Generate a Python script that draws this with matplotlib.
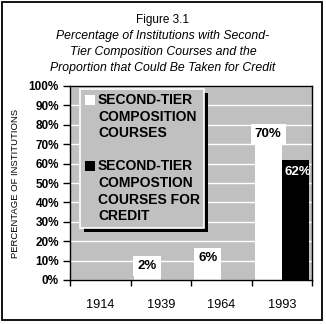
import matplotlib
matplotlib.use("Agg")
import matplotlib.pyplot as plt
from matplotlib.patches import Rectangle

years = ["1914", "1939", "1964", "1993"]
all_courses = [0, 2, 6, 70]
credit_courses = [0, 0, 0, 62]
all_labels = [None, "2%", "6%", "70%"]
credit_labels = [None, None, None, "62%"]
legend_labels = ["SECOND-TIER\nCOMPOSITION\nCOURSES",
                 "SECOND-TIER\nCOMPOSTION\nCOURSES FOR\nCREDIT"]
title_lines = ["Percentage of Institutions with Second-",
               "Tier Composition Courses and the",
               "Proportion that Could Be Taken for Credit"]

W, H = 326, 324
plt.rcParams["font.family"] = ["Liberation Sans", "DejaVu Sans"]
fig = plt.figure(figsize=(W / 100, H / 100), dpi=100)


def fx(x):
    return x / W


def fy(y):
    return 1 - y / H


# outer frame
fig.add_artist(Rectangle((fx(2), fy(320)), fx(320), (318) / H, transform=fig.transFigure,
                         fill=False, ec="black", lw=1.3))

fig.text(0.5, fy(20), "Figure 3.1", ha="center", va="center", fontsize=8.5)
for i, line in enumerate(title_lines):
    fig.text(0.5, fy(36 + 16 * i), line, ha="center", va="center", fontsize=8.8, style="italic")

ax = fig.add_axes([fx(70), fy(280), fx(242), 194 / H])
ax.set_facecolor("#c0c0c0")
x = list(range(len(years)))
bw = 0.45
ax.bar([i - bw / 2 for i in x], all_courses, width=bw, color="white", zorder=2)
ax.bar([i + bw / 2 for i in x], credit_courses, width=bw, color="black", zorder=2)

for i, (v, lab) in enumerate(zip(all_courses, all_labels)):
    if lab:
        ax.annotate(lab, (i - bw / 2, v), xytext=(0, 4), textcoords="offset pixels",
                    ha="center", va="bottom", fontsize=9.5, fontweight="bold", zorder=4,
                    bbox=dict(boxstyle="square,pad=0.32", fc="white", ec="none"))
for i, (v, lab) in enumerate(zip(credit_courses, credit_labels)):
    if lab:
        ax.annotate(lab, (i + bw / 2, v), xytext=(2, -6), textcoords="offset pixels",
                    ha="center", va="top", fontsize=9.5, fontweight="bold", color="white",
                    zorder=4)

ax.set_xlim(-0.5, 3.5)
ax.set_ylim(0, 100)
ax.set_yticks(range(0, 101, 10))
ax.set_yticklabels([f"{v}%" for v in range(0, 101, 10)], fontsize=8.5, fontweight="bold")
ax.yaxis.grid(True, color="white", lw=1)
ax.set_axisbelow(True)
ax.set_xticks([i - 0.5 for i in range(len(years) + 1)])
ax.set_xticklabels([])
ax.set_xticks(x, minor=True)
ax.set_xticklabels(years, minor=True, fontsize=9.2)
ax.tick_params(axis="x", which="minor", length=0, pad=14)
ax.tick_params(axis="x", which="major", length=4, direction="out", width=1)
ax.tick_params(axis="y", length=5, direction="out", width=1, pad=3)
for s in ax.spines.values():
    s.set_linewidth(1)
ax.set_ylabel("PERCENTAGE OF INSTITUTIONS", fontsize=6.8, labelpad=6)

# legend with shadow, drawn by hand
fig.add_artist(Rectangle((fx(84), fy(232)), fx(124), 139 / H, transform=fig.transFigure,
                         fc="black", ec="none", zorder=5))
fig.add_artist(Rectangle((fx(80), fy(228)), fx(124), 139 / H, transform=fig.transFigure,
                         fc="#c0c0c0", ec="white", lw=1.2, zorder=6))
for top, lab, col in zip([95, 161], legend_labels, ["white", "black"]):
    fig.add_artist(Rectangle((fx(85), fy(top + 10)), fx(10), 10 / H, transform=fig.transFigure,
                             fc=col, ec="none", zorder=7))
    fig.text(fx(98), fy(top - 2), lab, ha="left", va="top", fontsize=10, fontweight="bold",
             linespacing=1.25, zorder=7)

fig.savefig("out.png", dpi=100)
